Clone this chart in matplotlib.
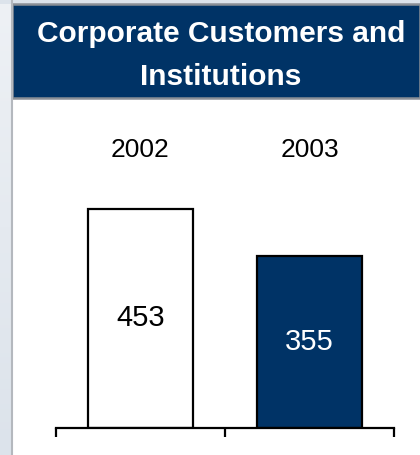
import matplotlib
matplotlib.use("Agg")
import matplotlib.pyplot as plt
from matplotlib.patches import Rectangle
import numpy as np

# Data
years = ["2002", "2003"]
values = [453, 355]
title_lines = ["Corporate Customers and", "Institutions"]

NAVY = "#003366"
W, H = 420, 455

plt.rcParams["font.family"] = ["Liberation Sans", "DejaVu Sans"]

fig = plt.figure(figsize=(W / 100, H / 100), dpi=100)
fig.patch.set_facecolor("white")


def fx(px):
    return px / W


def fy(py):
    return 1 - py / H


# light side strip and top strip
grad = np.linspace(0, 1, 256).reshape(-1, 1)
side = fig.add_axes([0, 0, fx(12), 1])
side.imshow(grad, aspect="auto", extent=[0, 1, 0, 1],
            cmap=matplotlib.colors.LinearSegmentedColormap.from_list(
                "s", ["#EEF1F5", "#DCE3EB"]))
side.axis("off")
fig.patches.append(Rectangle((0, fy(4)), 1, 4 / H, transform=fig.transFigure,
                             facecolor="#DCE3EB", edgecolor="none", zorder=0))
fig.add_artist(plt.Line2D([fx(11.5), fx(11.5)], [0, 1], color="#B4B8BE", lw=1.5))

# header band
fig.patches.append(Rectangle((fx(12), fy(98)), fx(420 - 12), (98 - 4) / H,
                             transform=fig.transFigure, facecolor=NAVY,
                             edgecolor="#8A8F96", lw=1.8, zorder=1))
fig.text(fx(221), fy(34), title_lines[0], color="white", fontsize=21.5,
         fontweight="bold", ha="center", va="center")
fig.text(fx(221), fy(77), title_lines[1], color="white", fontsize=21.5,
         fontweight="bold", ha="center", va="center")

# chart area
px_per_unit = 219 / 453.0
ax_left, ax_right, ax_bottom, ax_top = 56, 394, 428, 128
ymax = (ax_bottom - ax_top) / px_per_unit
ax = fig.add_axes([fx(ax_left), fy(ax_bottom), fx(ax_right - ax_left),
                   (ax_bottom - ax_top) / H])
ax.set_xlim(-0.5, len(years) - 0.5)
ax.set_ylim(0, ymax)
ax.patch.set_alpha(0)

x = np.arange(len(years))
colors = ["white", NAVY]
text_colors = ["black", "white"]
ax.bar(x, values, width=0.62, color=colors, edgecolor="black", linewidth=1.6,
       zorder=2)
for xi, v, tc in zip(x, values, text_colors):
    ax.text(xi, v / 2, str(v), ha="center", va="center", fontsize=21,
            color=tc, zorder=3)
for xi, yr in zip(x, years):
    ax.text(xi, (ax_bottom - 150) / px_per_unit, yr, ha="center",
            va="center", fontsize=19)

for s in ["top", "right", "left"]:
    ax.spines[s].set_visible(False)
ax.spines["bottom"].set_linewidth(1.6)
ax.set_yticks([])
ax.set_xticks(np.arange(len(years) + 1) - 0.5)
ax.set_xticklabels([])
ax.tick_params(axis="x", direction="out", length=6.5, width=1.6)

fig.savefig("out.png", dpi=100)
